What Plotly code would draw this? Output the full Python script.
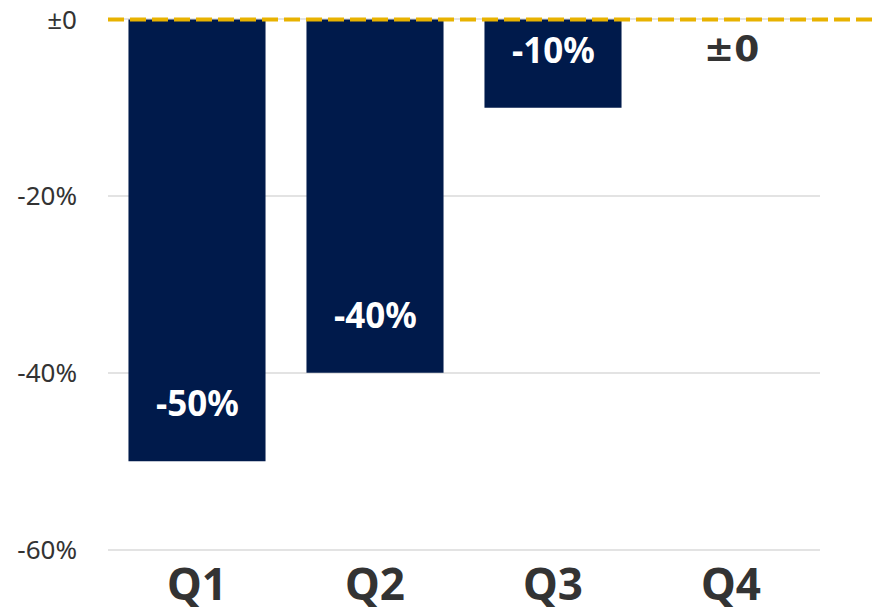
import plotly.graph_objects as go

categories = ["Q1", "Q2", "Q3", "Q4"]
values = [-50, -40, -10, 0]
labels = ["-50%", "-40%", "-10%", "±0"]
tick_vals = [0, -20, -40, -60]
tick_text = ["±0", "-20%", "-40%", "-60%"]

bar_color = "#001A4B"
font_family = "Noto Sans, sans-serif"

fig = go.Figure()
fig.add_trace(go.Bar(
    x=categories, y=values,
    marker=dict(color=bar_color, line=dict(width=0)),
    width=0.77, showlegend=False, hoverinfo="skip",
))

for c, v, t in zip(categories, values, labels):
    inside = v < 0
    fig.add_annotation(
        x=c, y=(v + 6.6) if inside else -3.3, xref="x", yref="y",
        text=t, showarrow=False,
        font=dict(family=font_family if inside else "DejaVu Sans, sans-serif",
                  size=35 if inside else 36,
                  color="white" if inside else "#333333", weight="bold"),
    )

fig.add_shape(type="line", xref="paper", yref="y", x0=0, x1=1.2, y0=0, y1=0,
              line=dict(color="#E8B200", width=4, dash="16px,6px"), layer="above")

fig.update_layout(
    width=875, height=613,
    margin=dict(l=108, r=55, t=15, b=59, autoexpand=False),
    paper_bgcolor="white", plot_bgcolor="white",
    bargap=0.23,
    xaxis=dict(
        showgrid=False, zeroline=False, showline=False, automargin=False,
        tickfont=dict(family=font_family, size=44, color="#333333", weight="bold"),
        ticks="", ticklabelstandoff=1, ticklabeloverflow="allow",
    ),
    yaxis=dict(
        range=[-60.5, 0.5], tickvals=tick_vals, ticktext=tick_text,
        showgrid=True, gridcolor="#E3E3E3", gridwidth=2, automargin=False,
        zeroline=False, showline=False, ticks="",
        tickfont=dict(family=font_family, size=26, color="#333333"),
        ticklabelstandoff=30, ticklabeloverflow="allow",
    ),
)

fig.write_html("out.html", config={"displayModeBar": False},
               post_script="document.body.style.margin='0px';")
